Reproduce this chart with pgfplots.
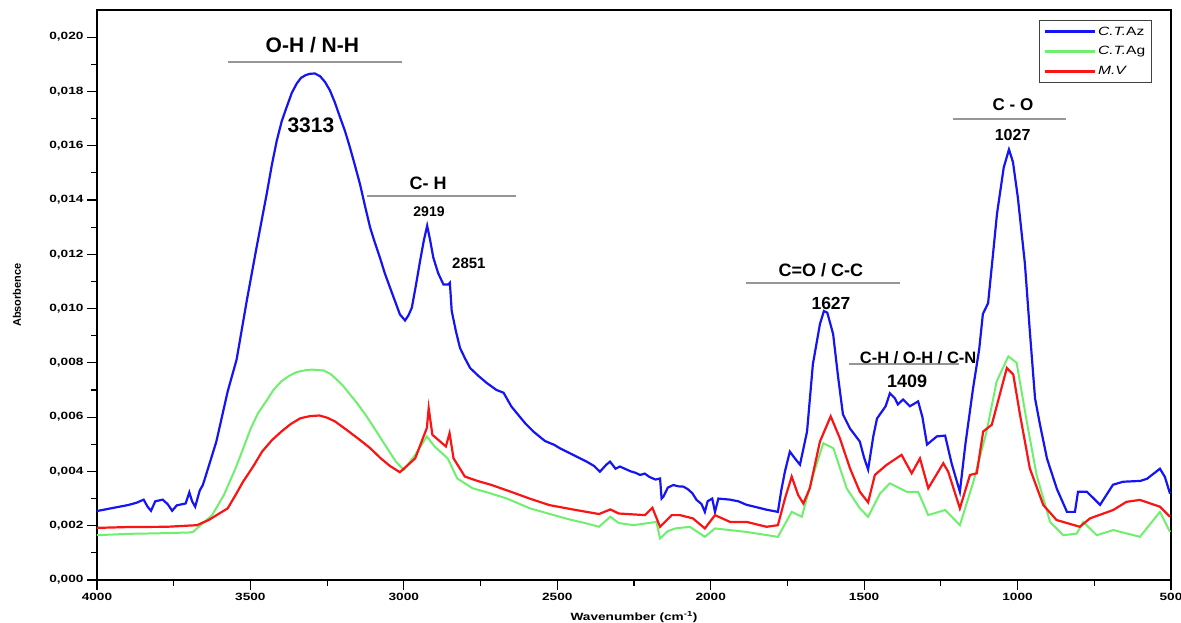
\documentclass[border=0pt]{standalone}
\usepackage{fontspec}
\setmainfont{Liberation Sans}
\newfontfamily\tickfont[FakeStretch=1.3]{Liberation Sans}
\usepackage{pgfplots}
\pgfplotsset{compat=1.18}

\definecolor{spblue}{RGB}{20,20,245}
\definecolor{spgreen}{RGB}{110,240,110}
\definecolor{spred}{RGB}{250,20,20}
\definecolor{bandgray}{RGB}{150,150,150}

\begin{document}
\begin{tikzpicture}
\useasboundingbox (-97pt,-43pt) rectangle (1084pt,580pt);
\begin{axis}[
  at={(0pt,0pt)}, anchor=south west,
  scale only axis, width=1074pt, height=570pt,
  x dir=reverse,
  xmin=500, xmax=4000, ymin=0, ymax=0.021,
  xtick={500,1000,1500,2000,2500,3000,3500,4000},
  ytick={0,0.002,0.004,0.006,0.008,0.010,0.012,0.014,0.016,0.018,0.020},
  minor x tick num=1, minor y tick num=1,
  tick align=outside, tick pos=left,
  major tick length=10pt, minor tick length=6pt,
  every tick/.style={black, line width=1.2pt},
  axis line style={line width=1.2pt},
  scaled y ticks=false,
  yticklabel style={/pgf/number format/.cd, fixed, fixed zerofill, precision=3, use comma},
  xticklabel style={/pgf/number format/1000 sep={}},
  /pgf/number format/assume math mode=true,
  tick label style={font=\tickfont\bfseries\fontsize{10.5}{12}\selectfont},
  xlabel={Wavenumber (cm\textsuperscript{-1})},
  ylabel={Absorbence},
  xlabel style={at={(axis description cs:0.5,-0.065)}, anchor=center, font=\tickfont\bfseries\fontsize{10.5}{12}\selectfont},
  ylabel style={at={(axis description cs:-0.0745,0.5)}, anchor=center, font=\bfseries\fontsize{11}{12}\selectfont},
  legend style={at={(0.982,0.982)}, anchor=north east, draw=black!75, line width=0.8pt,
    fill=white, font=\tickfont\fontsize{12}{13}\selectfont, row sep=6pt, inner sep=4pt},
  legend cell align=left,
  legend image code/.code={\draw[#1, line width=3pt] (0pt,0pt) -- (50pt,0pt);},
]

% C.T.Az
\addplot[spblue, line width=2.2pt] coordinates {
(4000,0.00254) (3950,0.00265) (3899,0.00276) (3870,0.00285) (3848,0.00296) (3835,0.00270)
(3824,0.00255) (3810,0.00290) (3786,0.00296) (3770,0.00280) (3755,0.00255) (3740,0.00275)
(3711,0.00282) (3699,0.00323) (3690,0.00290) (3680,0.00270) (3665,0.00330) (3655,0.00350)
(3643,0.00393) (3611,0.00510) (3574,0.00695) (3545,0.00812) (3512,0.01028) (3480,0.01225)
(3447,0.01422) (3430,0.01530) (3414,0.01619) (3398,0.01690) (3382,0.01742) (3365,0.01795)
(3349,0.01829) (3335,0.01850) (3320,0.01860) (3306,0.01865) (3290,0.01866) (3273,0.01856)
(3257,0.01835) (3241,0.01804) (3225,0.01760) (3208,0.01705) (3192,0.01655) (3176,0.01595)
(3160,0.01530) (3143,0.01459) (3127,0.01380) (3110,0.01299) (3095,0.01245) (3078,0.01188)
(3062,0.01130) (3045,0.01077) (3028,0.01025) (3013,0.00979) (2996,0.00956) (2985,0.00975)
(2974,0.01003) (2960,0.01090) (2947,0.01176) (2935,0.01250) (2924,0.01305) (2914,0.01250)
(2904,0.01188) (2888,0.01130) (2871,0.01089) (2855,0.01089) (2850,0.01095) (2844,0.00991)
(2830,0.00915) (2817,0.00855) (2800,0.00815) (2784,0.00781) (2757,0.00752) (2730,0.00726)
(2698,0.00700) (2675,0.00690) (2665,0.00670) (2650,0.00640) (2632,0.00615) (2605,0.00578)
(2578,0.00547) (2540,0.00512) (2510,0.00498) (2491,0.00485) (2450,0.00462) (2420,0.00445)
(2404,0.00436) (2380,0.00420) (2361,0.00399) (2340,0.00425) (2328,0.00436) (2310,0.00410)
(2296,0.00418) (2280,0.00410) (2260,0.00400) (2245,0.00395) (2230,0.00387) (2215,0.00392)
(2200,0.00380) (2180,0.00370) (2165,0.00374) (2160,0.00300) (2154,0.00307) (2140,0.00340)
(2122,0.00350) (2105,0.00345) (2089,0.00344) (2075,0.00335) (2060,0.00320) (2046,0.00295)
(2030,0.00280) (2019,0.00251) (2010,0.00290) (1995,0.00300) (1986,0.00251) (1975,0.00300)
(1937,0.00296) (1910,0.00290) (1883,0.00277) (1850,0.00268) (1818,0.00259) (1781,0.00251)
(1770,0.00330) (1758,0.00400) (1742,0.00473) (1720,0.00440) (1709,0.00425) (1686,0.00547)
(1667,0.00795) (1644,0.00943) (1631,0.00991) (1620,0.00985) (1601,0.00906) (1585,0.00750)
(1569,0.00610) (1546,0.00558) (1514,0.00510) (1500,0.00450) (1487,0.00407) (1470,0.00530)
(1458,0.00595) (1430,0.00640) (1416,0.00688) (1400,0.00670) (1390,0.00647) (1373,0.00665)
(1351,0.00640) (1324,0.00658) (1310,0.00600) (1295,0.00499) (1263,0.00529) (1236,0.00532)
(1215,0.00430) (1188,0.00325) (1170,0.00500) (1145,0.00706) (1125,0.00850) (1113,0.00980)
(1096,0.01020) (1080,0.01200) (1067,0.01349) (1045,0.01520) (1028,0.01586) (1015,0.01540)
(999,0.01409) (976,0.01165) (960,0.00917) (943,0.00669) (927,0.00573) (904,0.00447)
(872,0.00336) (839,0.00251) (813,0.00251) (803,0.00325) (774,0.00325) (731,0.00277)
(689,0.00351) (656,0.00362) (600,0.00365) (578,0.00373) (536,0.00410) (520,0.00380)
(503,0.00318)
};
\addlegendentry{\textit{C.T.}Az}

% C.T.Ag
\addplot[spgreen, line width=2pt] coordinates {
(4000,0.00165) (3900,0.00170) (3800,0.00172) (3700,0.00175) (3687,0.00177) (3661,0.00203)
(3624,0.00240) (3586,0.00314) (3549,0.00410) (3525,0.00480) (3499,0.00558) (3475,0.00615)
(3449,0.00658) (3425,0.00700) (3399,0.00732) (3374,0.00752) (3349,0.00766) (3320,0.00773)
(3299,0.00775) (3262,0.00772) (3240,0.00760) (3224,0.00744) (3200,0.00718) (3175,0.00683)
(3150,0.00648) (3125,0.00609) (3100,0.00566) (3075,0.00522) (3050,0.00478) (3026,0.00436)
(3000,0.00406) (2963,0.00461) (2925,0.00529) (2900,0.00492) (2857,0.00448) (2826,0.00374)
(2776,0.00338) (2720,0.00320) (2664,0.00300) (2589,0.00264) (2530,0.00245) (2464,0.00224)
(2410,0.00210) (2364,0.00196) (2327,0.00233) (2300,0.00210) (2252,0.00202) (2177,0.00214)
(2165,0.00153) (2140,0.00180) (2115,0.00190) (2068,0.00196) (2019,0.00159) (1986,0.00190)
(1883,0.00177) (1781,0.00159) (1736,0.00251) (1703,0.00233) (1666,0.00387) (1633,0.00504)
(1600,0.00485) (1557,0.00338) (1514,0.00264) (1487,0.00233) (1448,0.00319) (1416,0.00356)
(1361,0.00325) (1324,0.00325) (1291,0.00239) (1236,0.00258) (1188,0.00202) (1144,0.00362)
(1101,0.00547) (1068,0.00732) (1030,0.00824) (1003,0.00800) (970,0.00584) (938,0.00387)
(894,0.00214) (851,0.00165) (807,0.00171) (786,0.00214) (742,0.00165) (688,0.00184)
(601,0.00159) (536,0.00251) (503,0.00177)
};
\addlegendentry{\textit{C.T.}Ag}

% M.V
\addplot[spred, line width=2.2pt] coordinates {
(4000,0.00192) (3900,0.00195) (3773,0.00196) (3674,0.00202) (3636,0.00221) (3574,0.00264)
(3550,0.00310) (3524,0.00362) (3490,0.00420) (3462,0.00473) (3430,0.00515) (3399,0.00547)
(3368,0.00575) (3337,0.00596) (3305,0.00604) (3275,0.00606) (3250,0.00598) (3224,0.00584)
(3190,0.00556) (3150,0.00522) (3110,0.00486) (3075,0.00448) (3045,0.00420) (3013,0.00397)
(2963,0.00448) (2938,0.00522) (2925,0.00560) (2919,0.00633) (2907,0.00535) (2863,0.00492)
(2851,0.00541) (2838,0.00448) (2801,0.00381) (2760,0.00365) (2714,0.00350) (2651,0.00325)
(2590,0.00300) (2526,0.00276) (2450,0.00260) (2364,0.00243) (2327,0.00260) (2300,0.00245)
(2214,0.00239) (2190,0.00266) (2165,0.00196) (2127,0.00239) (2100,0.00239) (2058,0.00227)
(2019,0.00190) (1986,0.00239) (1937,0.00214) (1883,0.00214) (1818,0.00196) (1781,0.00202)
(1758,0.00300) (1736,0.00381) (1715,0.00313) (1698,0.00282) (1677,0.00338) (1644,0.00510)
(1609,0.00603) (1579,0.00522) (1546,0.00411) (1514,0.00325) (1487,0.00286) (1465,0.00387)
(1427,0.00424) (1378,0.00461) (1345,0.00393) (1318,0.00448) (1291,0.00338) (1242,0.00430)
(1226,0.00399) (1188,0.00264) (1155,0.00387) (1133,0.00393) (1112,0.00547) (1084,0.00572)
(1035,0.00781) (1014,0.00757) (992,0.00609) (960,0.00411) (916,0.00276) (873,0.00221)
(797,0.00196) (764,0.00227) (688,0.00258) (645,0.00288) (601,0.00295) (536,0.00270)
(503,0.00233)
};
\addlegendentry{\textit{M.V}}

% band annotations
\draw[bandgray, line width=2pt] (axis cs:3573,0.01908) -- (axis cs:3006,0.01908);
\node[font=\bfseries\fontsize{21}{24}\selectfont] at (axis cs:3298,0.0197) {O-H / N-H};
\node[font=\bfseries\fontsize{21}{24}\selectfont] at (axis cs:3303,0.01675) {3313};
\draw[bandgray, line width=2pt] (axis cs:3120,0.01416) -- (axis cs:2635,0.01416);
\node[font=\bfseries\fontsize{18}{20}\selectfont] at (axis cs:2921,0.0146) {C- H};
\node[font=\bfseries\fontsize{14}{16}\selectfont] at (axis cs:2918,0.01357) {2919};
\node[font=\bfseries\fontsize{15}{17}\selectfont] at (axis cs:2788,0.01165) {2851};
\draw[bandgray, line width=2pt] (axis cs:1885,0.01094) -- (axis cs:1383,0.01094);
\node[font=\bfseries\fontsize{18}{20}\selectfont] at (axis cs:1641,0.01142) {C=O / C-C};
\node[font=\bfseries\fontsize{17.5}{20}\selectfont] at (axis cs:1608,0.0102) {1627};
\draw[bandgray, line width=2pt] (axis cs:1549,0.00795) -- (axis cs:1191,0.00795);
\node[font=\bfseries\fontsize{16.5}{19}\selectfont] at (axis cs:1324,0.0082) {C-H / O-H / C-N};
\node[font=\bfseries\fontsize{18}{20}\selectfont] at (axis cs:1360,0.00732) {1409};
\draw[bandgray, line width=2pt] (axis cs:1210,0.01697) -- (axis cs:842,0.01697);
\node[font=\bfseries\fontsize{17}{19}\selectfont] at (axis cs:1015,0.01752) {C - O};
\node[font=\bfseries\fontsize{16}{18}\selectfont] at (axis cs:1016,0.01638) {1027};
\end{axis}
\end{tikzpicture}
\end{document}
